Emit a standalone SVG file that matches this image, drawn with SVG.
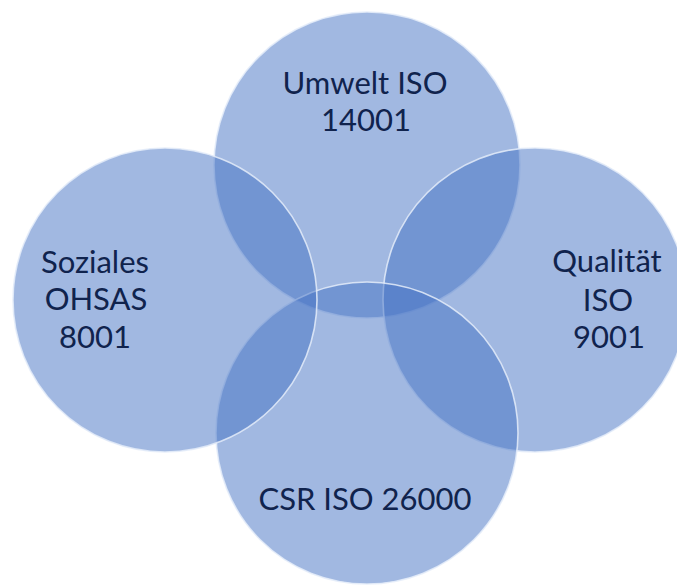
<svg xmlns="http://www.w3.org/2000/svg" width="677" height="587" viewBox="0 0 677 587">
  <style>
    .c { fill: #4472C4; fill-opacity: 0.5; stroke: #e4ecf9; stroke-opacity: 0.85; stroke-width: 1.6; }
    .t { font-family: Lato, "Open Sans", "Liberation Sans", sans-serif; font-size: 31px; fill: #10234d; text-anchor: middle; }
  </style>
  <rect width="677" height="587" fill="#ffffff"/>
  <g id="umwelt">
    <circle class="c" cx="367" cy="165" r="153"/>
  </g>
  <g id="qualitaet">
    <circle class="c" cx="535" cy="300" r="152"/>
  </g>
  <g id="csr">
    <circle class="c" cx="367" cy="433" r="151"/>
  </g>
  <g id="soziales">
    <circle class="c" cx="165" cy="300" r="152"/>
  </g>
  <g id="labels">
    <text class="t" x="365" y="94">Umwelt ISO</text>
    <text class="t" x="366" y="131">14001</text>
    <text class="t" x="95" y="273">Soziales</text>
    <text class="t" x="96" y="310">OHSAS</text>
    <text class="t" x="95" y="348">8001</text>
    <text class="t" x="607" y="272">Qualität</text>
    <text class="t" x="608" y="311">ISO</text>
    <text class="t" x="609" y="348">9001</text>
    <text class="t" x="365" y="510">CSR ISO 26000</text>
  </g>
</svg>
